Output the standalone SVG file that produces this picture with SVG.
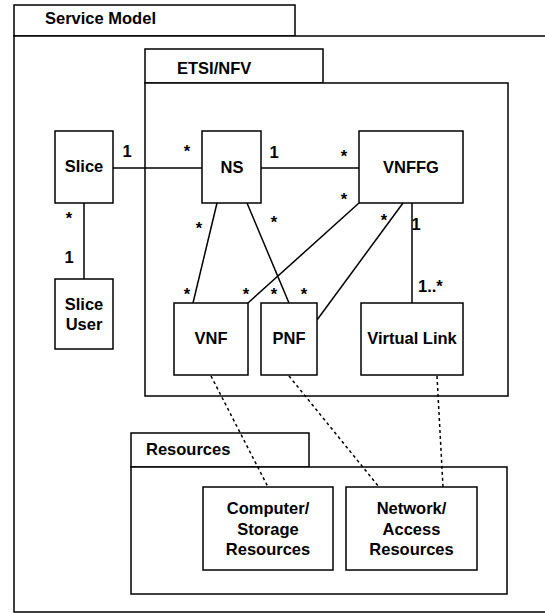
<svg xmlns="http://www.w3.org/2000/svg" width="545" height="613" viewBox="0 0 545 613">
<style>
rect{fill:#fff;stroke:#000;stroke-width:1.5}
text{font-family:"Liberation Sans",Arial,Helvetica,sans-serif;font-weight:bold;font-size:16.5px;fill:#000}
.c{text-anchor:middle}
.ln{stroke:#000;stroke-width:1.5;fill:none}
.d{stroke:#000;stroke-width:1.5;fill:none;stroke-dasharray:3 3}
</style>
<rect x="0" y="0" width="545" height="613" style="stroke:none"/>
<g id="service-model">
<rect x="14" y="5" width="281" height="31"/>
<rect x="14" y="36" width="560" height="576"/>
<text x="45" y="24">Service Model</text>
</g>
<g id="etsi-nfv">
<rect x="145" y="49" width="178" height="34"/>
<rect x="145" y="83" width="363" height="313"/>
<text x="177" y="74">ETSI/NFV</text>
</g>
<g id="resources">
<rect x="131" y="433" width="178" height="34"/>
<rect x="131" y="467" width="376" height="127"/>
<text x="146" y="455">Resources</text>
</g>
<g id="connectors">
<line class="ln" x1="84" y1="203" x2="84" y2="279"/>
<line class="ln" x1="113" y1="168" x2="202" y2="168"/>
<line class="ln" x1="261" y1="168" x2="359" y2="168"/>
<line class="ln" x1="217" y1="203" x2="193" y2="303"/>
<line class="ln" x1="247" y1="203" x2="289" y2="303"/>
<line class="ln" x1="359" y1="203" x2="248" y2="303"/>
<line class="ln" x1="403" y1="203" x2="317" y2="320"/>
<line class="ln" x1="412" y1="203" x2="412" y2="303"/>
<line class="d" x1="211" y1="376" x2="268" y2="487"/>
<line class="d" x1="289" y1="376" x2="379" y2="487"/>
<line class="d" x1="437" y1="376" x2="443" y2="487"/>
<text x="69" y="224" class="c">*</text>
<text x="69" y="263" class="c">1</text>
<text x="127" y="157" class="c">1</text>
<text x="187" y="157" class="c">*</text>
<text x="274" y="158" class="c">1</text>
<text x="344" y="162" class="c">*</text>
<text x="344" y="205" class="c">*</text>
<text x="199" y="234" class="c">*</text>
<text x="274" y="228" class="c">*</text>
<text x="384" y="226" class="c">*</text>
<text x="416" y="230" class="c">1</text>
<text x="418" y="292">1..*</text>
<text x="187" y="300" class="c">*</text>
<text x="246" y="300" class="c">*</text>
<text x="274" y="300" class="c">*</text>
<text x="304" y="300" class="c">*</text>
</g>
<g id="slice">
<rect x="55" y="131" width="58" height="72"/>
<text x="84" y="172" class="c">Slice</text>
</g>
<g id="slice-user">
<rect x="55" y="279" width="58" height="70"/>
<text x="84" y="310" class="c">Slice</text>
<text x="84" y="330" class="c">User</text>
</g>
<g id="ns">
<rect x="202" y="131" width="59" height="72"/>
<text x="232" y="173" class="c">NS</text>
</g>
<g id="vnffg">
<rect x="359" y="131" width="104" height="72"/>
<text x="411" y="173" class="c">VNFFG</text>
</g>
<g id="vnf">
<rect x="174" y="303" width="74" height="72"/>
<text x="211" y="344" class="c">VNF</text>
</g>
<g id="pnf">
<rect x="261" y="303" width="56" height="72"/>
<text x="289" y="344" class="c">PNF</text>
</g>
<g id="virtual-link">
<rect x="361" y="303" width="102" height="72"/>
<text x="412" y="344" class="c">Virtual Link</text>
</g>
<g id="computer-storage">
<rect x="203" y="487" width="130" height="83"/>
<text x="268" y="514" class="c">Computer/</text>
<text x="268" y="535" class="c">Storage</text>
<text x="268" y="555" class="c">Resources</text>
</g>
<g id="network-access">
<rect x="346" y="487" width="131" height="83"/>
<text x="411.5" y="514" class="c">Network/</text>
<text x="411.5" y="535" class="c">Access</text>
<text x="411.5" y="555" class="c">Resources</text>
</g>
</svg>
